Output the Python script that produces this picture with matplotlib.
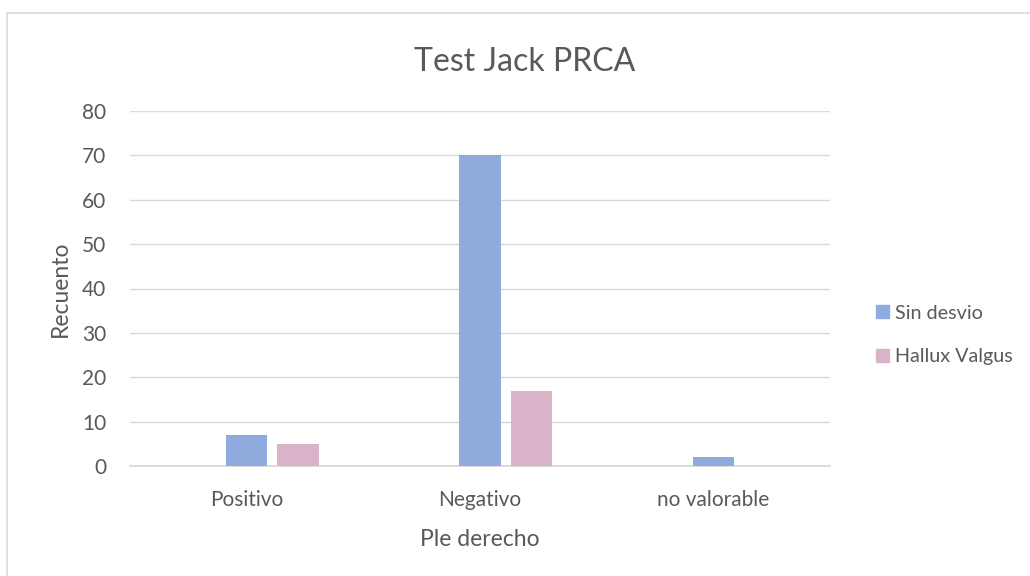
import numpy as np
import matplotlib
matplotlib.use("Agg")
import matplotlib.pyplot as plt
from matplotlib.patches import Rectangle, Patch

categories = ["Positivo", "Negativo", "no valorable"]
sin_desvio = [7, 70, 2]
hallux_valgus = [5, 17, 0]
series_names = ["Sin desvio", "Hallux Valgus"]
y_ticks = [0, 10, 20, 30, 40, 50, 60, 70, 80]

plt.rcParams['font.family'] = ['Lato', 'DejaVu Sans']
txt = '#595959'
grid = '#D9D9D9'
c_blue = '#8FAADC'
c_pink = '#D9B3C8'

fig = plt.figure(figsize=(10.30, 5.76), dpi=100)
ax = fig.add_axes([130/1030, 1 - 466/576, 700/1030, 355/576])

x = np.arange(len(categories))
w = 0.176
off = 0.22
ax.bar(x, sin_desvio, w, color=c_blue, zorder=3)
ax.bar(x + off, hallux_valgus, w, color=c_pink, zorder=3)

ax.set_xlim(-0.5, 2.5)
ax.set_ylim(0, 80)
ax.set_yticks(y_ticks)
ax.set_xticks(x)
ax.set_xticklabels(categories)
ax.tick_params(axis='both', length=0, colors=txt, labelsize=15)
ax.tick_params(axis='x', pad=17)
ax.tick_params(axis='y', pad=17)
ax.grid(axis='y', color=grid, linewidth=1, zorder=0)
for s in ['top', 'right', 'left']:
    ax.spines[s].set_visible(False)
ax.spines['bottom'].set_color(grid)
ax.spines['bottom'].set_linewidth(1.3)

ax.set_ylabel("Recuento", color=txt, fontsize=16.5, labelpad=8)
ax.set_xlabel("Ple derecho", color=txt, fontsize=16.5, labelpad=14)
fig.text(525/1030, 1 - 62/576, "Test Jack PRCA", ha='center', va='center',
         color=txt, fontsize=23)

handles = [Patch(color=c_blue), Patch(color=c_pink)]
fig.legend(handles, series_names, loc='center left',
           bbox_to_anchor=(858/1030, 1 - 335/576), frameon=False,
           fontsize=14.2, labelcolor=txt, handlelength=0.65, handleheight=0.65,
           handletextpad=0.35, labelspacing=1.35)

fig.patches.append(Rectangle((7/1030, -0.05), 1.0, 1.05 - 13/576, transform=fig.transFigure,
                             fill=False, edgecolor=grid, linewidth=1.2))

fig.savefig("out.png", dpi=100)
